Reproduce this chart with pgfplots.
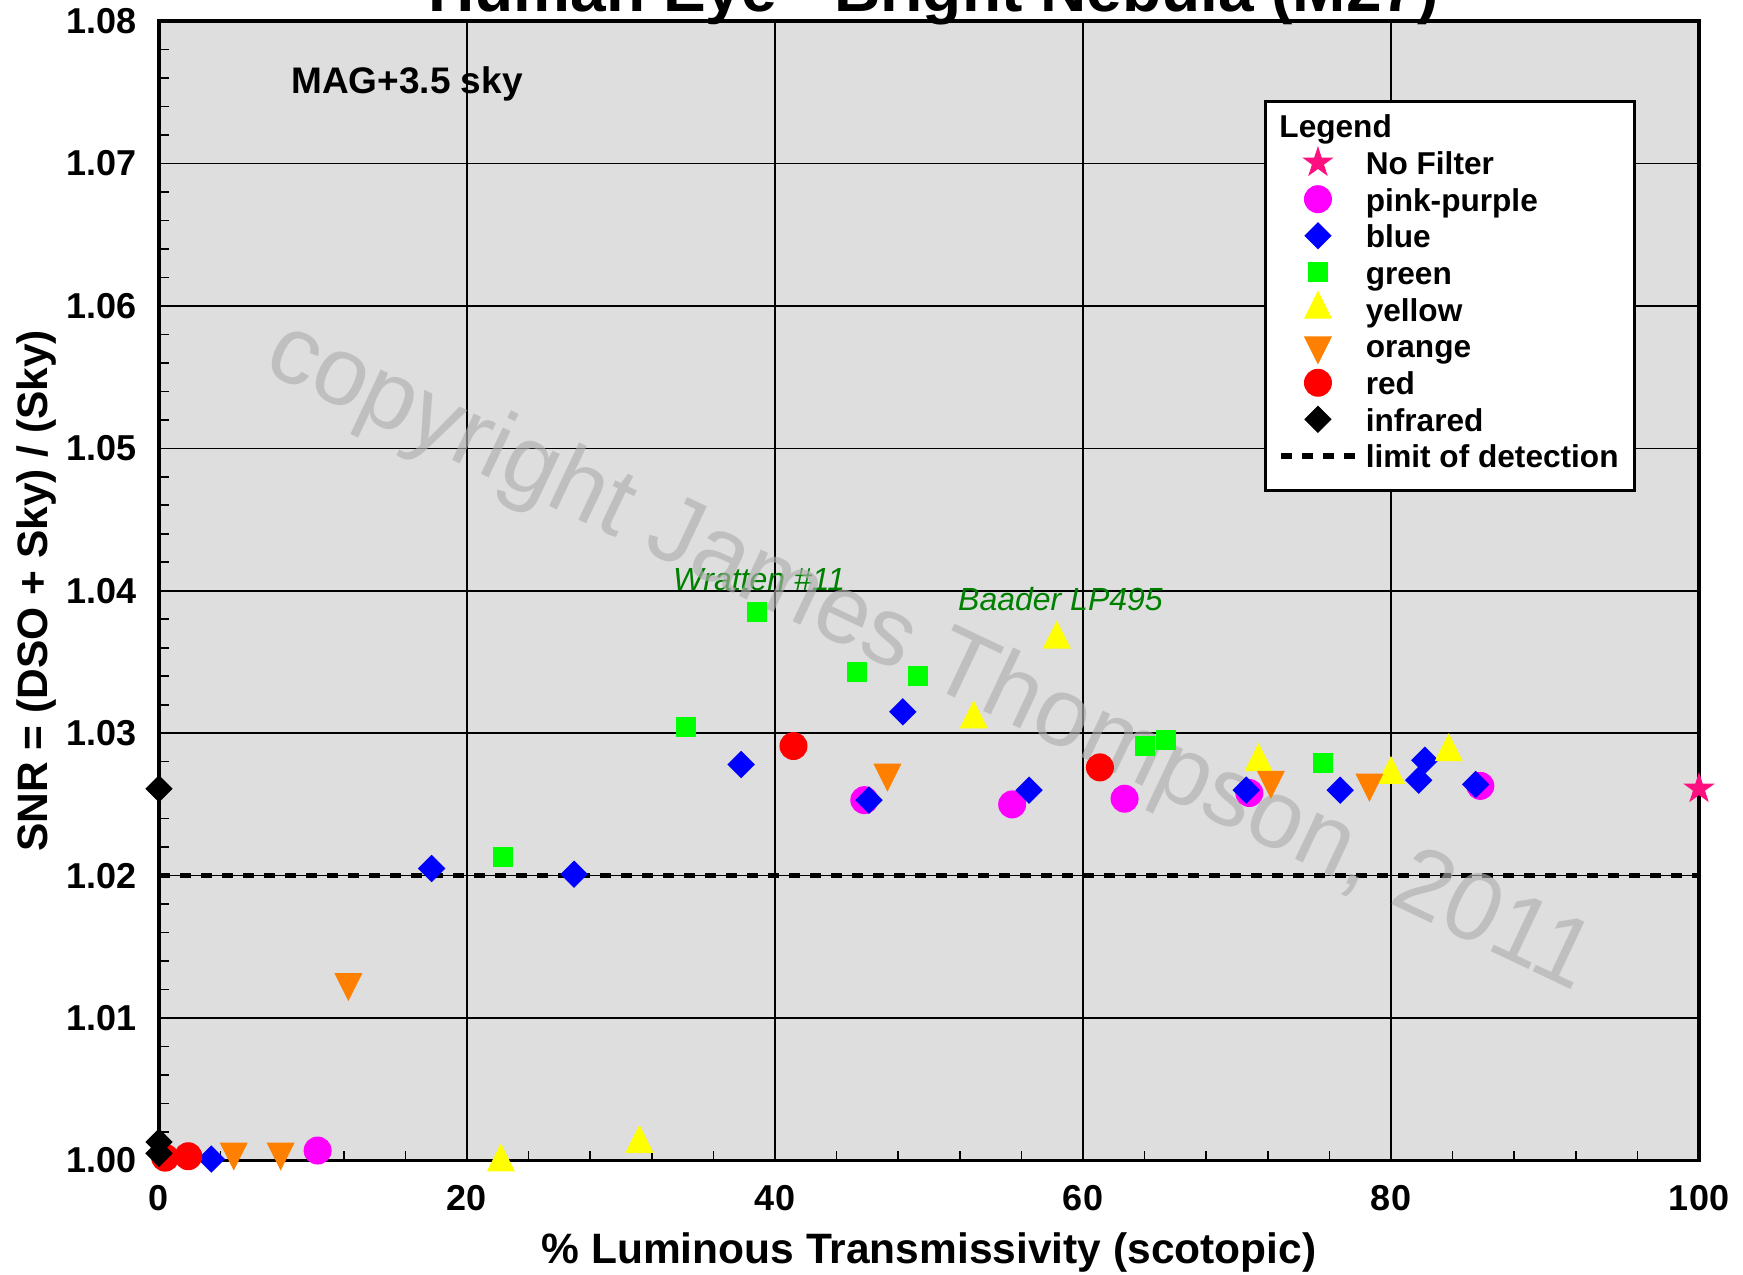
\documentclass[border=0pt]{standalone}
\usepackage{fontspec}
\setmainfont{Liberation Sans}
\usepackage{pgfplots}
\pgfplotsset{compat=1.18}

\definecolor{nofilter}{RGB}{255,16,128}
\definecolor{pinkp}{RGB}{255,0,255}
\definecolor{bluec}{RGB}{0,0,255}
\definecolor{greenc}{RGB}{0,255,0}
\definecolor{yellowc}{RGB}{255,255,0}
\definecolor{orangec}{RGB}{255,128,0}
\definecolor{redc}{RGB}{255,0,0}
\definecolor{bgc}{RGB}{222,222,222}
\definecolor{annot}{RGB}{0,128,0}
\definecolor{wm}{RGB}{175,175,175}

\pgfplotsset{dashleg/.style={legend image code/.code={\draw[##1] (0.3cm-18.4pt,0pt) -- (0.3cm+18.4pt,0pt);}}}

\pgfdeclareplotmark{fdia}{%
  \pgfpathmoveto{\pgfqpoint{0pt}{\pgfplotmarksize}}%
  \pgfpathlineto{\pgfqpoint{\pgfplotmarksize}{0pt}}%
  \pgfpathlineto{\pgfqpoint{0pt}{-\pgfplotmarksize}}%
  \pgfpathlineto{\pgfqpoint{-\pgfplotmarksize}{0pt}}%
  \pgfpathclose\pgfusepathqfill}
\pgfdeclareplotmark{ftriup}{%
  \pgfpathmoveto{\pgfqpoint{0pt}{1.333\pgfplotmarksize}}%
  \pgfpathlineto{\pgfqpoint{\pgfplotmarksize}{-0.667\pgfplotmarksize}}%
  \pgfpathlineto{\pgfqpoint{-\pgfplotmarksize}{-0.667\pgfplotmarksize}}%
  \pgfpathclose\pgfusepathqfill}
\pgfdeclareplotmark{ftridn}{%
  \pgfpathmoveto{\pgfqpoint{0pt}{-1.333\pgfplotmarksize}}%
  \pgfpathlineto{\pgfqpoint{\pgfplotmarksize}{0.667\pgfplotmarksize}}%
  \pgfpathlineto{\pgfqpoint{-\pgfplotmarksize}{0.667\pgfplotmarksize}}%
  \pgfpathclose\pgfusepathqfill}
\pgfdeclareplotmark{fsq}{%
  \pgfpathrectanglecorners{\pgfqpoint{-\pgfplotmarksize}{-\pgfplotmarksize}}{\pgfqpoint{\pgfplotmarksize}{\pgfplotmarksize}}%
  \pgfusepathqfill}
\pgfdeclareplotmark{fcirc}{%
  \pgfpathcircle{\pgfpointorigin}{\pgfplotmarksize}%
  \pgfusepathqfill}
\pgfdeclareplotmark{fstar}{%
  \pgfpathmoveto{\pgfpointpolar{90}{\pgfplotmarksize}}%
  \pgfpathlineto{\pgfpointpolar{126}{0.382\pgfplotmarksize}}%
  \pgfpathlineto{\pgfpointpolar{162}{\pgfplotmarksize}}%
  \pgfpathlineto{\pgfpointpolar{198}{0.382\pgfplotmarksize}}%
  \pgfpathlineto{\pgfpointpolar{234}{\pgfplotmarksize}}%
  \pgfpathlineto{\pgfpointpolar{270}{0.382\pgfplotmarksize}}%
  \pgfpathlineto{\pgfpointpolar{306}{\pgfplotmarksize}}%
  \pgfpathlineto{\pgfpointpolar{342}{0.382\pgfplotmarksize}}%
  \pgfpathlineto{\pgfpointpolar{18}{\pgfplotmarksize}}%
  \pgfpathlineto{\pgfpointpolar{54}{0.382\pgfplotmarksize}}%
  \pgfpathclose\pgfusepathqfill}

\begin{document}
\begin{tikzpicture}
\begin{axis}[
  name=ax,
  scale only axis,
  width=770pt, height=569.75pt,
  xmin=0, xmax=100, ymin=1.00, ymax=1.08,
  clip=false,
  axis background/.style={fill=bgc},
  xtick={0,20,40,60,80,100},
  ytick={1.00,1.01,1.02,1.03,1.04,1.05,1.06,1.07,1.08},
  minor x tick num=4, minor y tick num=4,
  tick pos=left, tick align=inside,
  major tick length=4.8pt, minor tick length=4.8pt,
  tick style={black, line width=0.8pt},
  grid=major,
  grid style={black, line width=0.8pt},
  axis line style={black, line width=1.75pt},
  /pgf/number format/assume math mode=true,
  tick label style={font=\fontsize{18}{18}\selectfont\bfseries},
  xticklabel style={inner sep=0pt, anchor=north, yshift=-12.25pt},
  yticklabel style={inner sep=0pt, anchor=east, xshift=-10.8pt,
    /pgf/number format/.cd, fixed, fixed zerofill, precision=2},
  scaled y ticks=false,
  xlabel={\% Luminous Transmissivity (scotopic)},
  ylabel={SNR = (DSO + Sky) / (Sky)},
  label style={font=\fontsize{21.25}{21.25}\selectfont\bfseries, inner sep=0pt},
  xlabel style={at={([yshift=-51.25pt]axis description cs:0.5,0)}, anchor=base},
  ylabel style={at={([xshift=-55.5pt]axis description cs:0,0.5)}, anchor=base},
  legend cell align=left,
  legend style={draw=none, fill=none, at={(0.7266,0.8921)}, anchor=north west,
    inner sep=0pt, font=\fontsize{15.8}{16}\selectfont\bfseries,
    nodes={inner sep=0pt, text height=15.14pt, text depth=3.14pt},
    column sep=4.1pt, row sep=0pt},
]
% legend frame
\draw[line width=1.5pt, fill=white] (rel axis cs:0.7186,0.5884) rectangle (rel axis cs:0.958,0.9298);
\node[anchor=base west, inner sep=0pt, font=\fontsize{15.8}{16}\selectfont\bfseries] at (rel axis cs:0.7273,0.8976) {Legend};

\addplot[only marks, mark=fstar, mark size=8.3pt, color=nofilter] coordinates {(100,1.0261)};
\addlegendentry{No Filter}
\addplot[only marks, mark=fcirc, mark size=7pt, color=pinkp] coordinates {
 (10.3,1.0007) (45.8,1.0253) (55.4,1.0250) (62.7,1.0254) (70.8,1.0258) (85.8,1.0263)};
\addlegendentry{pink-purple}
\addplot[only marks, mark=fdia, mark size=6.85pt, color=bluec] coordinates {
 (3.4,1.0001) (17.7,1.0205) (26.95,1.0201) (37.8,1.0278) (46.1,1.0253) (48.3,1.0315)
 (56.5,1.0260) (70.6,1.0260) (76.7,1.0260) (81.8,1.0267) (82.2,1.0281) (85.5,1.0264)};
\addlegendentry{blue}
\addplot[only marks, mark=fsq, mark size=5pt, color=greenc] coordinates {
 (22.35,1.0213) (34.2,1.0304) (38.8,1.0385) (45.3,1.0343) (49.3,1.0340)
 (64.0,1.0291) (65.4,1.0295) (75.6,1.0279)};
\addlegendentry{green}
\addplot[only marks, mark=ftriup, mark size=7pt, color=yellowc] coordinates {
 (22.2,0.9999) (31.2,1.0012) (52.9,1.0310) (58.3,1.0366) (71.4,1.0280) (80.0,1.0271) (83.75,1.0287)};
\addlegendentry{yellow}
\addplot[only marks, mark=ftridn, mark size=7pt, color=orangec] coordinates {
 (4.85,1.0006) (7.9,1.0006) (12.3,1.0125) (47.3,1.0272) (72.2,1.0267) (78.6,1.0265)};
\addlegendentry{orange}
\addplot[only marks, mark=fcirc, mark size=7pt, color=redc] coordinates {
 (0.4,1.0002) (1.9,1.0003) (41.2,1.0291) (61.1,1.0276)};
\addlegendentry{red}
\addplot[only marks, mark=fdia, mark size=6.85pt, color=black] coordinates {
 (0,1.0261) (0,1.0013) (0,1.0005)};
\addlegendentry{infrared}
\addplot[black, line width=2.8pt, dash pattern=on 5.5pt off 5pt, dashleg]
  coordinates {(0,1.02) (100,1.02)};
\addlegendentry{limit of detection}

% texts
\node[anchor=base, inner sep=0pt, font=\fontsize{32}{32}\selectfont\bfseries] at ([yshift=5pt]rel axis cs:0.503,1) {Human Eye - Bright Nebula (M27)};
\node[anchor=base west, inner sep=0pt, font=\fontsize{18.5}{18.5}\selectfont\bfseries] at (rel axis cs:0.0857,0.9366) {MAG+3.5 sky};
\node[anchor=base west, inner sep=0pt, text=annot, font=\fontsize{16}{16}\selectfont\itshape] at (axis cs:33.36,1.0400) {Wratten \#11};
\node[anchor=base west, inner sep=0pt, text=annot, font=\fontsize{16}{16}\selectfont\itshape] at (axis cs:51.87,1.0386) {Baader LP495};
% watermark
\node[anchor=base west, inner sep=0pt, rotate=-25.3, text=wm, text opacity=0.64, font=\fontsize{48.5}{48.5}\selectfont] at (axis cs:6.62,1.0555) {copyright James Thompson, 2011};
\end{axis}
\pgfresetboundingbox
\path[use as bounding box] (ax.south west) ++(-79.5pt,-56.75pt) rectangle ++(871.5pt,637pt);
\end{tikzpicture}
\end{document}
